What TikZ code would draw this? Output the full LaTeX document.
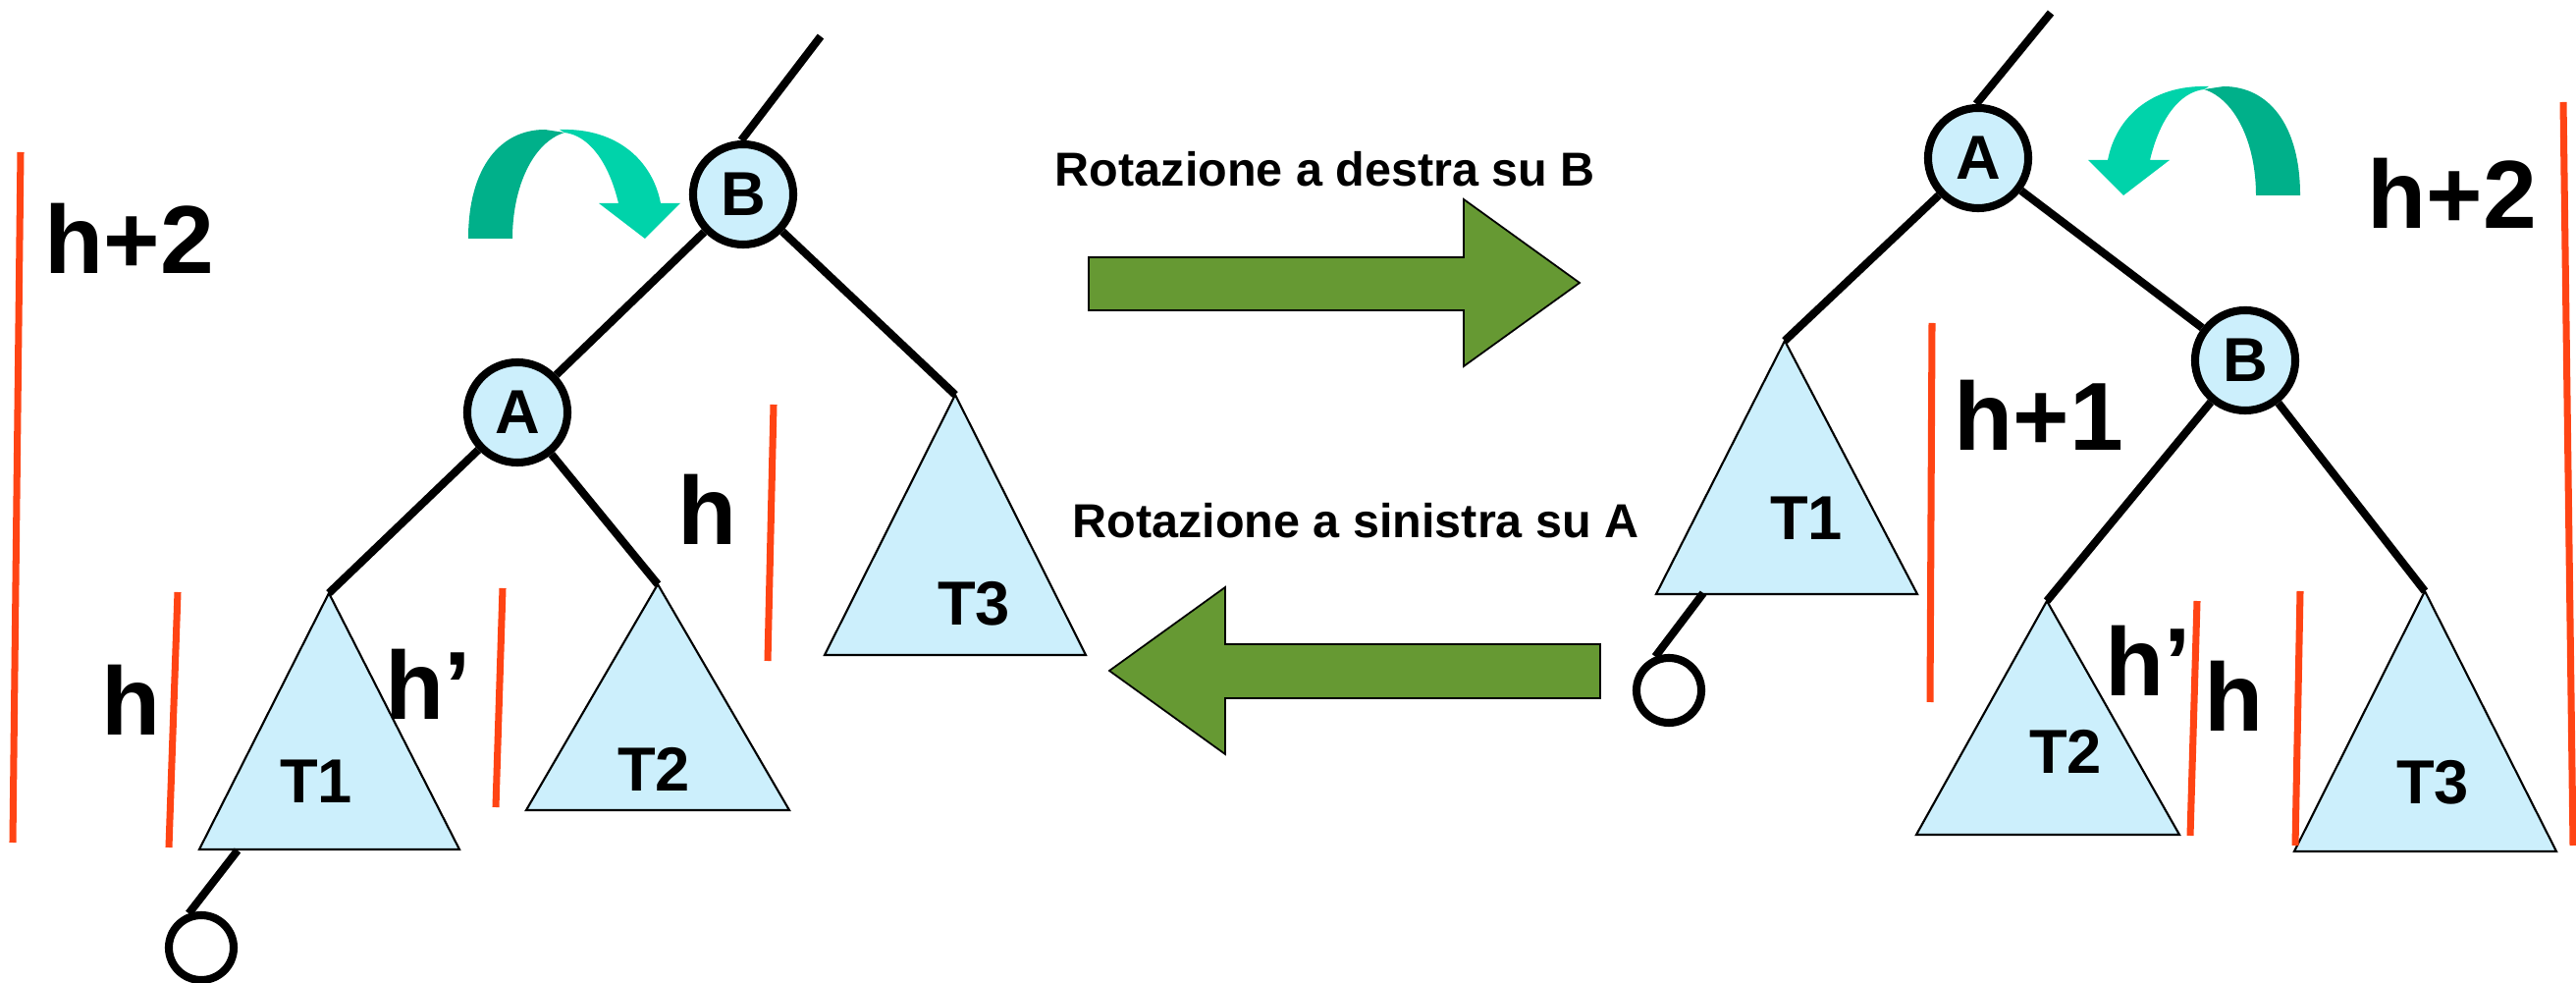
\documentclass[tikz,border=0pt]{standalone}
\usepackage{fontspec}
\setmainfont{Liberation Sans}
\usetikzlibrary{positioning}
\definecolor{treeblue}{RGB}{204,239,252}
\definecolor{hred}{RGB}{255,68,20}
\definecolor{rotgreen}{RGB}{102,153,51}
\definecolor{turndark}{RGB}{0,176,138}
\definecolor{turnlight}{RGB}{0,211,170}
\tikzset{
    mynode/.style = {circle, line width=2.3pt, draw=black, fill=treeblue, minimum size=1.02cm, inner sep=0pt, font=\fontsize{18}{18}\selectfont\bfseries},
    mynil/.style = {circle, line width=2.3pt, draw=black, fill=white, minimum size=0.66cm, inner sep=0pt},
    mytree/.style = {draw=black, line width=0.6pt, fill=treeblue, line join=miter},
    mytreetext/.style = {inner sep=0pt, font=\fontsize{18}{18}\selectfont\bfseries},
    myheight/.style = {inner sep=0pt, font=\fontsize{28}{28}\selectfont\bfseries},
    myrot/.style = {inner sep=0pt, font=\fontsize{13.8}{14}\selectfont\bfseries},
    myblock/.style = {draw=black, line width=0.5pt, fill=rotgreen},
    edgen/.style = {-, line width=2.3pt, black},
    edger/.style = {-, line width=2pt, hred}, % heights
}
% two-tone curved arrow (dark tail, light head)
\newcommand{\turnarrow}{%
  \fill[turndark] (477,243) .. controls (477,170) and (510,132) .. (555,132)
     -- (575,135) .. controls (543,145) and (522,190) .. (522,243) -- cycle;
  \fill[turnlight] (570,132) .. controls (630,130) and (665,165) .. (673,207)
     -- (693,207) -- (657,243) -- (610,207) -- (630,207)
     .. controls (620,165) and (600,138) .. (575,135) -- cycle;
}

\begin{document}
\begin{tikzpicture}[x=0.01cm, y=-0.01cm, font=\bfseries]
\useasboundingbox (0,0) rectangle (2624,1001);
% left tree
\node[mynode] at (757, 198) (lb) {B};
\node[mynode] at (527, 420) (la) {A};
\node[mynil] at (205, 965) (lnil) {};
\coordinate (ltop) at (836, 37);
\coordinate (lt1) at (335, 604);
\coordinate (lt2) at (670, 595);
\coordinate (lt3) at (973, 402);
\coordinate (lfoot) at (242, 866);
%
\draw[mytree] (lt1) -- ++(-132, 261) -- ++(265, 0) -- cycle;
\draw[mytree] (lt2) -- ++(-134, 230) -- ++(268, 0) -- cycle;
\draw[mytree] (lt3) -- ++(-133, 265) -- ++(266, 0) -- cycle;
\node[mytreetext] at (322, 796) {T1};
\node[mytreetext] at (666, 783) {T2};
\node[mytreetext] at (992, 615) {T3};
%
\draw[edgen] (lb.92) -- (ltop);
\draw[edgen] (lb) -- (la);
\draw[edgen] (lb) -- (lt3);
\draw[edgen] (la) -- (lt1);
\draw[edgen] (la) -- (lt2);
\draw[edgen] (lfoot) -- (lnil.110);
%
\draw[edger] (21, 155) -- (13, 858);
\draw[edger] (181, 603) -- (172, 863);
\draw[edger] (512, 599) -- (505, 822);
\draw[edger] (788, 412) -- (782, 673);
\node[myheight] at (132, 243) {h+2};
\node[myheight] at (134, 713) {h};
\node[myheight] at (436, 697) {h'};
\node[myheight] at (721, 519) {h};
\turnarrow

% rotations
\node[myrot] at (1350, 172) (rotr) {Rotazione a destra su B};
\node[myrot] at (1381, 530) (rotl) {Rotazione a sinistra su A};
\draw[myblock] (1109,262) -- (1491,262) -- (1491,203) -- (1609,288) -- (1491,373) -- (1491,316) -- (1109,316) -- cycle;
\draw[myblock] (1630,656) -- (1248,656) -- (1248,598) -- (1130,683) -- (1248,768) -- (1248,711) -- (1630,711) -- cycle;

% right tree
\node[mynode] at (2015, 161) (ra) {A};
\node[mynode] at (2287, 367) (rb) {B};
\node[mynil] at (1700, 703) (rnil) {};
\coordinate (rtop) at (2089, 13);
\coordinate (rt1) at (1818, 347);
\coordinate (rt2) at (2085, 612);
\coordinate (rt3) at (2470, 602);
\coordinate (rfoot) at (1735, 604);
%
\draw[mytree] (rt1) -- ++(-131, 258) -- ++(266, 0) -- cycle;
\draw[mytree] (rt2) -- ++(-133, 238) -- ++(268, 0) -- cycle;
\draw[mytree] (rt3) -- ++(-133, 265) -- ++(267, 0) -- cycle;
\node[mytreetext] at (1840, 528) {T1};
\node[mytreetext] at (2104, 765) {T2};
\node[mytreetext] at (2478, 797) {T3};
%
\draw[edgen] (ra.92) -- (rtop);
\draw[edgen] (ra) -- (rt1);
\draw[edgen] (ra) -- (rb);
\draw[edgen] (rb) -- (rt2);
\draw[edgen] (rb) -- (rt3);
\draw[edgen] (rfoot) -- (rnil.112);
%
\draw[edger] (1968, 329) -- (1966, 715);
\draw[edger] (2238, 612) -- (2231, 851);
\draw[edger] (2343, 602) -- (2338, 861);
\draw[edger] (2611, 104) -- (2621, 861);
\node[myheight] at (2077, 423) {h+1};
\node[myheight] at (2188, 673) {h'};
\node[myheight] at (2276, 709) {h};
\node[myheight] at (2498, 197) {h+2};
\begin{scope}[shift={(2820,-44)}, xscale=-1]
\turnarrow
\end{scope}
\end{tikzpicture}
\end{document}
